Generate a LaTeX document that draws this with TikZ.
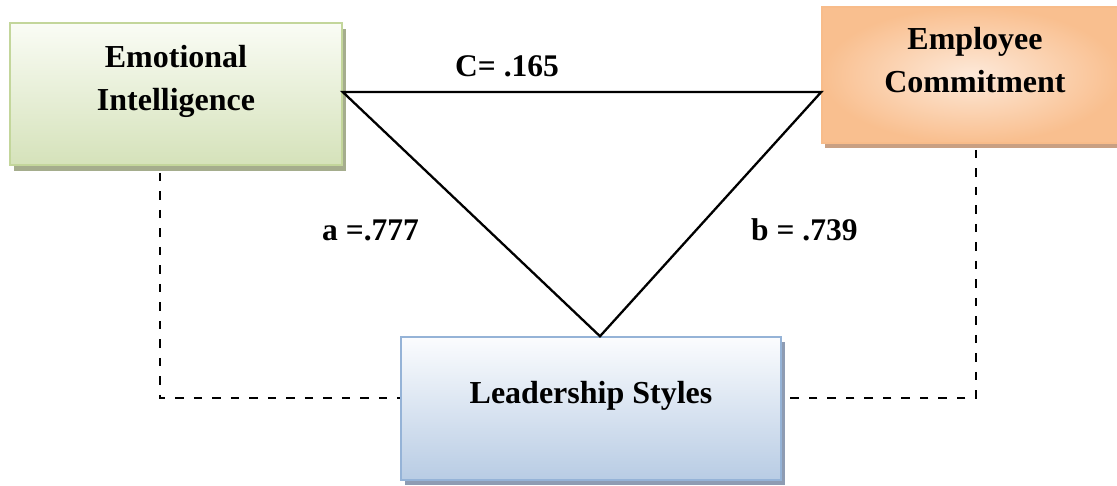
\documentclass[tikz,border=0pt]{standalone}
\usepackage{fontspec}
\setmainfont{Liberation Serif}
\usetikzlibrary{calc,shadows}

\definecolor{greenTop}{HTML}{FAFCF5}
\definecolor{greenBot}{HTML}{D5E2BA}
\definecolor{greenLine}{HTML}{C3D69B}
\definecolor{greenShadow}{HTML}{A5AD8D}
\definecolor{orangeIn}{HTML}{FDE9D9}
\definecolor{orangeOut}{HTML}{F9BF8F}
\definecolor{orangeLine}{HTML}{F8BC8A}
\definecolor{orangeShadow}{HTML}{C9A083}
\definecolor{blueTop}{HTML}{FBFCFE}
\definecolor{blueBot}{HTML}{B8CCE4}
\definecolor{blueLine}{HTML}{95B3D7}
\definecolor{blueShadow}{HTML}{8E9CB3}

\tikzset{
  box/.style={rectangle, inner sep=0pt, line width=1.5pt},
  greenbox/.style={box, draw=greenLine, top color=greenTop, bottom color=greenBot,
    general shadow={fill=greenShadow, shadow xshift=4pt, shadow yshift=-6pt}},
  orangebox/.style={box, draw=orangeLine, shading=radial, inner color=orangeIn, outer color=orangeOut,
    general shadow={fill=orangeShadow, shadow xshift=3pt, shadow yshift=-5pt}},
  bluebox/.style={box, draw=blueLine, top color=blueTop, bottom color=blueBot,
    general shadow={fill=blueShadow, shadow xshift=4pt, shadow yshift=-5pt}},
  boxtext/.style={font=\fontsize{32}{43}\selectfont\bfseries, align=center, anchor=base, inner sep=0pt},
  lbl/.style={font=\fontsize{31.5}{38}\selectfont\bfseries, anchor=base west, inner sep=0pt},
  solidline/.style={line width=2.3pt, line join=miter},
  dashline/.style={line width=2.3pt, dash pattern=on 8.5pt off 10pt},
}

\begin{document}
\begin{tikzpicture}[x=1pt, y=-1pt]
  \useasboundingbox (0,0) rectangle (1117,485);

  % boxes
  \node[greenbox, minimum width=332pt, minimum height=142pt] (EI) at (176,94) {};
  \node[orangebox, minimum width=298pt, minimum height=136pt] (EC) at (971,75) {};
  \node[bluebox, minimum width=380pt, minimum height=143pt] (LS) at (591,408.5) {};

  % box texts (base = baseline of the last line)
  \node[boxtext] (EIt) at (176,110) {Emotional\\Intelligence};
  \node[boxtext] (ECt) at (975,92) {Employee\\Commitment};
  \node[boxtext] (LSt) at (591,403) {Leadership Styles};

  % triangle
  \draw[solidline] ($(EI.east)+(0,-2)$) coordinate (t1)
      -- (EC.west |- t1) -- ($(LS.north)+(9,0)$) -- cycle;

  % dashed connections
  \coordinate (lc) at (160,398);
  \coordinate (rc) at (976,398);
  \draw[dashline] (EI.south -| lc) ++(0,7) |- (LS.west |- lc);
  \draw[dashline] (EC.south -| rc) ++(0,6) |- (LS.east |- rc);

  % labels
  \node[lbl] (c) at (455,76) {C= .165};
  \node[lbl] (a) at (322,240) {a =.777};
  \node[lbl] (b) at (751,240) {b = .739};
\end{tikzpicture}
\end{document}
